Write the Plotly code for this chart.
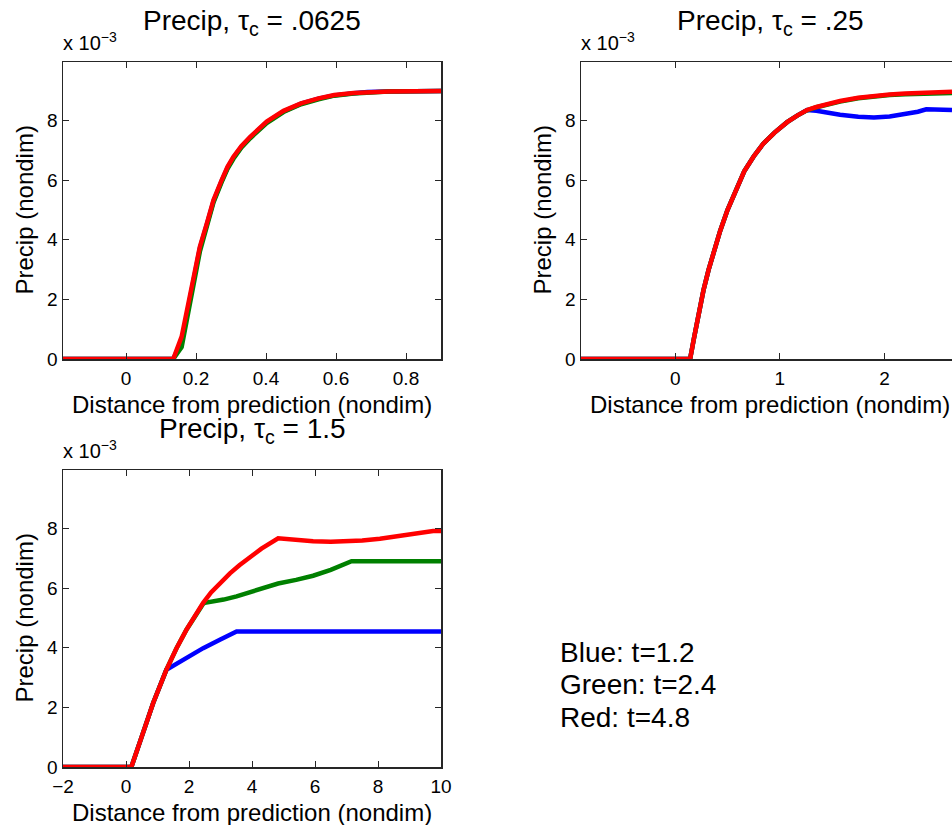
import plotly.graph_objects as go

# ---------------- data (precip values in units of 1e-3) ----------------
# Panel 1: tau_c = .0625
x_p1 = [-0.18, 0.0, 0.135, 0.159, 0.173, 0.192, 0.211, 0.231, 0.25, 0.273, 0.29, 0.307,
        0.33, 0.355, 0.38, 0.402, 0.45, 0.5, 0.55, 0.595, 0.65, 0.69, 0.75, 0.9]
blue_p1 = [0, 0, 0, 0.6, 1.45, 2.5, 3.72, 4.52, 5.3, 5.97, 6.42, 6.76, 7.13, 7.44,
           7.73, 7.95, 8.31, 8.57, 8.74, 8.85, 8.92, 8.96, 8.98, 9.0]
green_p1 = [0, 0, 0, 0.4, 1.25, 2.35, 3.6, 4.45, 5.26, 5.93, 6.38, 6.72, 7.1, 7.41,
            7.7, 7.92, 8.29, 8.55, 8.72, 8.84, 8.91, 8.95, 8.98, 9.0]
red_p1 = [0, 0, 0, 0.75, 1.53, 2.54, 3.77, 4.55, 5.34, 6.0, 6.45, 6.79, 7.15, 7.46,
          7.75, 7.97, 8.33, 8.58, 8.75, 8.86, 8.93, 8.96, 8.98, 9.0]

# Panel 2: tau_c = .25
x_p2 = [-0.9, 0.0, 0.143, 0.18, 0.22, 0.27, 0.32, 0.37, 0.43, 0.5, 0.58, 0.66, 0.75,
        0.84, 0.95, 1.07, 1.17, 1.26, 1.35, 1.45, 1.576, 1.75, 1.9, 2.05, 2.2, 2.32,
        2.4, 2.5, 2.646]
red_p2 = [0, 0, 0, 0.7, 1.5, 2.3, 3.0, 3.6, 4.3, 5.0, 5.7, 6.3, 6.8, 7.22, 7.6,
          7.95, 8.18, 8.36, 8.46, 8.56, 8.66, 8.77, 8.84, 8.88, 8.91, 8.93, 8.94,
          8.95, 8.97]
green_p2 = [0, 0, 0, 0.7, 1.5, 2.3, 3.0, 3.6, 4.3, 5.0, 5.7, 6.3, 6.8, 7.22, 7.6,
            7.95, 8.18, 8.35, 8.45, 8.55, 8.64, 8.75, 8.82, 8.86, 8.89, 8.91, 8.92,
            8.92, 8.93]
blue_p2 = [0, 0, 0, 0.7, 1.5, 2.3, 3.0, 3.6, 4.3, 5.0, 5.7, 6.3, 6.8, 7.22, 7.6,
           7.95, 8.18, 8.36, 8.33, 8.27, 8.2, 8.13, 8.11, 8.14, 8.22, 8.3, 8.38,
           8.37, 8.36]

# Panel 3: tau_c = 1.5
x_p3_red = [-2, 0, 0.17, 0.5, 0.86, 1.28, 1.6, 1.92, 2.2, 2.45, 2.7, 2.98, 3.3,
            3.6, 3.83, 4.3, 4.83, 5.0, 5.3, 5.94, 6.5, 7.0, 7.5, 8.06, 8.6, 9.0,
            9.55, 9.75, 10]
red_p3 = [0, 0, 0, 1.02, 2.14, 3.26, 3.98, 4.61, 5.1, 5.51, 5.86, 6.18, 6.5, 6.77,
          6.96, 7.33, 7.68, 7.66, 7.62, 7.58, 7.56, 7.57, 7.6, 7.66, 7.74, 7.8,
          7.9, 7.92, 7.92]
x_p3_green = [-2, 0, 0.17, 0.5, 0.86, 1.28, 1.6, 1.92, 2.2, 2.45, 2.5, 2.8, 3.1,
              3.51, 4.0, 4.5, 4.83, 5.4, 5.94, 6.5, 7.16, 10]
green_p3 = [0, 0, 0, 1.02, 2.14, 3.26, 3.98, 4.61, 5.1, 5.48, 5.51, 5.56, 5.62,
            5.73, 5.88, 6.04, 6.16, 6.28, 6.42, 6.62, 6.91, 6.91]
x_p3_blue = [-2, 0, 0.17, 0.5, 0.86, 1.28, 1.8, 2.45, 2.98, 3.51, 10]
blue_p3 = [0, 0, 0, 1.02, 2.14, 3.26, 3.6, 3.99, 4.27, 4.55, 4.55]

titles = ["Precip, τ<sub>c</sub> = .0625", "Precip, τ<sub>c</sub> = .25",
          "Precip, τ<sub>c</sub> = 1.5"]
x_label = "Distance from prediction (nondim)"
y_label = "Precip (nondim)"
legend_text = ["Blue: t=1.2", "Green: t=2.4", "Red: t=4.8"]
y_ticks = [0, 2, 4, 6, 8]

# ---------------- layout geometry ----------------
W, H = 952, 825
FONT = "Liberation Sans, Arial, Helvetica, sans-serif"
BLUE, GREEN, RED = "#0000FF", "#008000", "#FF0000"
LW = 4.5


def px_x(p):
    return p / W


def px_y(p):
    return 1 - p / H


fig = go.Figure()

panels = [
    dict(xa="x", ya="y", data=[(x_p1, blue_p1, BLUE), (x_p1, green_p1, GREEN), (x_p1, red_p1, RED)]),
    dict(xa="x2", ya="y2", data=[(x_p2, blue_p2, BLUE), (x_p2, green_p2, GREEN), (x_p2, red_p2, RED)]),
    dict(xa="x3", ya="y3", data=[(x_p3_blue, blue_p3, BLUE), (x_p3_green, green_p3, GREEN),
                                 (x_p3_red, red_p3, RED)]),
]
for p in panels:
    for xs, ys, c in p["data"]:
        fig.add_trace(go.Scatter(x=xs, y=ys, mode="lines", xaxis=p["xa"], yaxis=p["ya"],
                                 line=dict(color=c, width=LW), showlegend=False,
                                 hoverinfo="skip"))

axis_common = dict(showline=True, linecolor="#262626", linewidth=1.5, ticks="inside",
                   ticklen=6, tickwidth=1, tickcolor="#262626", showgrid=False,
                   zeroline=False, automargin=False,
                   tickfont=dict(family=FONT, size=19, color="black"))

# pixel boxes: (left, right, top, bottom)
boxes = [(63, 441, 62, 359), (581, 952, 62, 359), (63, 441, 470, 767)]
xranges = [[-0.18, 0.9], [-0.9, 2.646], [-2, 10]]
xticks = [[0, 0.2, 0.4, 0.6, 0.8], [0, 1, 2], [-2, 0, 2, 4, 6, 8, 10]]

for i, (box, xr, xt) in enumerate(zip(boxes, xranges, xticks)):
    l, r, t, b = box
    sfx = "" if i == 0 else str(i + 1)
    fig.update_layout({
        "xaxis" + sfx: dict(axis_common, domain=[px_x(l), px_x(r)], range=xr,
                            tickvals=xt, mirror="ticks", anchor="y" + sfx,
                            ticklabelstandoff=2),
        "yaxis" + sfx: dict(axis_common, domain=[px_y(b), px_y(t)], range=[0, 9.97],
                            tickvals=y_ticks, mirror=("ticks" if i != 1 else False),
                            anchor="x" + sfx, ticklabelstandoff=0),
    })

annotations = []
title_centers = [252, 770, 252]
for i, (box, tc) in enumerate(zip(boxes, title_centers)):
    l, r, t, b = box
    # title
    annotations.append(dict(text=titles[i], x=px_x(tc), y=px_y(t - 20), xref="paper",
                            yref="paper", xanchor="center", yanchor="bottom",
                            showarrow=False, font=dict(family=FONT, size=28, color="black")))
    # exponent label
    annotations.append(dict(text="x 10<sup>−3</sup>", x=px_x(l - 2), y=px_y(t - 6),
                            xref="paper", yref="paper", xanchor="left", yanchor="bottom",
                            showarrow=False, font=dict(family=FONT, size=20, color="black")))
    # x label
    annotations.append(dict(text=x_label, x=px_x(tc), y=px_y(b + 30), xref="paper",
                            yref="paper", xanchor="center", yanchor="top",
                            showarrow=False, font=dict(family=FONT, size=24, color="black")))
    # y label
    annotations.append(dict(text=y_label, x=px_x(l - 39), y=px_y((t + b) / 2),
                            xref="paper", yref="paper", xanchor="center", yanchor="middle",
                            textangle=-90, showarrow=False,
                            font=dict(family=FONT, size=24, color="black")))

for k, line in enumerate(legend_text):
    annotations.append(dict(text=line, x=px_x(558), y=px_y(652 + 32.5 * k),
                            xref="paper", yref="paper", xanchor="left", yanchor="middle",
                            align="left", showarrow=False,
                            font=dict(family=FONT, size=28, color="black")))

fig.update_layout(width=W, height=H,
                  margin=dict(l=0, r=0, t=0, b=0, pad=0, autoexpand=False),
                  paper_bgcolor="white", plot_bgcolor="white",
                  annotations=annotations, showlegend=False)

fig.write_html("out.html",
               config={"displayModeBar": False, "staticPlot": True},
               post_script="document.body.style.margin='0';"
                           "document.body.style.padding='0';"
                           "document.documentElement.style.overflow='hidden';")
